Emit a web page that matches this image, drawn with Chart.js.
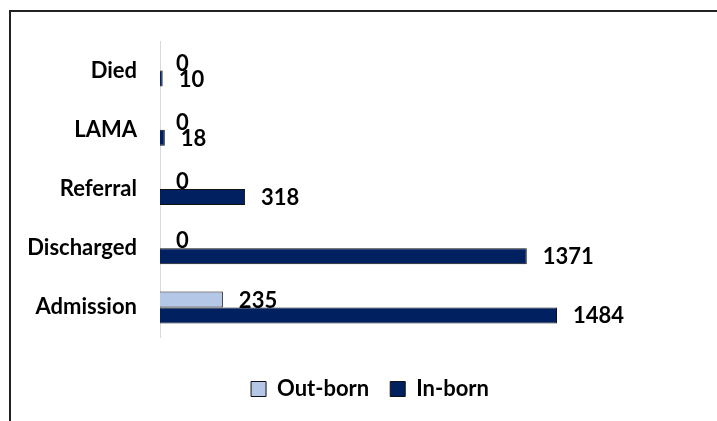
<!DOCTYPE html>
<html>
<head>
<meta charset="utf-8">
<script src="https://cdn.jsdelivr.net/npm/chart.js@4"></script>
<style>
  html, body { margin: 0; padding: 0; background: #fff; }
  #wrap { position: relative; width: 717px; height: 421px; }
  #frame { position: absolute; left: 9px; top: 10px; right: 0; bottom: 0;
           border-top: 2px solid #222; border-left: 2px solid #222; pointer-events: none; }
</style>
</head>
<body>
<div id="wrap">
  <canvas id="grafico"></canvas>
  <div id="frame"></div>
</div>
<script>
const categorias = ['Died', 'LAMA', 'Referral', 'Discharged', 'Admission'];
const outBorn = [0, 0, 0, 0, 235];
const inBorn = [10, 18, 318, 1371, 1484];

const fuente = { family: 'Lato', size: 22, weight: 'bold' };

// etiquetas de valor al final de cada barra
const etiquetas = {
  id: 'etiquetas',
  afterDatasetsDraw(chart) {
    const ctx = chart.ctx;
    ctx.save();
    ctx.font = 'bold 22px Lato';
    ctx.fillStyle = '#000';
    ctx.textAlign = 'left';
    ctx.textBaseline = 'middle';
    chart.data.datasets.forEach((ds, i) => {
      chart.getDatasetMeta(i).data.forEach((bar, j) => {
        ctx.fillText(ds.data[j], bar.x + 16, bar.y + 1);
      });
    });
    ctx.restore();
  }
};

const ctx = document.getElementById('grafico').getContext('2d');
const grafico = new Chart(ctx, {
  type: 'bar',
  data: {
    labels: categorias,
    datasets: [{
      label: 'Out-born',
      data: outBorn,
      backgroundColor: '#b4c7e7',
      borderColor: '#111',
      borderWidth: 1
    }, {
      label: 'In-born',
      data: inBorn,
      backgroundColor: '#002060',
      borderColor: '#111',
      borderWidth: 1
    }]
  },
  options: {
    indexAxis: 'y',
    responsive: true,
    maintainAspectRatio: false,
    animation: false,
    categoryPercentage: 0.54,
    barPercentage: 1,
    layout: { padding: { top: 41, left: 23, right: 0, bottom: 11 } },
    scales: {
      x: {
        min: 0,
        max: 2082,
        ticks: { display: false },
        grid: { display: false },
        border: { display: false },
        afterFit: (s) => { s.height = 20; }
      },
      y: {
        grid: { drawOnChartArea: false, drawTicks: false },
        border: { display: true, color: '#d9d9d9', width: 1 },
        ticks: { color: '#000', font: fuente, padding: 23 },
        afterFit: (s) => { s.width = 137; }
      }
    },
    plugins: {
      legend: {
        position: 'bottom',
        labels: {
          color: '#000',
          font: fuente,
          boxWidth: 15,
          boxHeight: 15,
          padding: 21
        }
      },
      tooltip: { enabled: false }
    }
  },
  plugins: [etiquetas]
});
</script>
</body>
</html>
